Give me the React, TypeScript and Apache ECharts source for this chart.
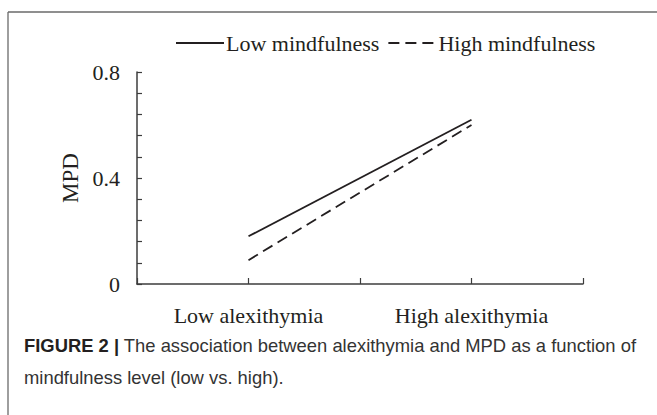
import React, { useEffect, useRef } from "react";
import * as echarts from "echarts";

const xCategories = ["", "Low alexithymia", "", "High alexithymia", ""];
const seriesNames = ["Low mindfulness", "High mindfulness"];
const lowMindfulness = [null, 0.18, null, 0.62, null];
const highMindfulness = [null, 0.09, null, 0.6, null];
const yMin = 0;
const yMax = 0.8;
const yInterval = 0.4;
const yMinorSplit = 5;
const yAxisName = "MPD";
const captionBold = "FIGURE 2 |";
const captionLine1 = " The association between alexithymia and MPD as a function of";
const captionLine2 = "mindfulness level (low vs. high).";

const SERIF = "'Liberation Serif', 'Times New Roman', serif";
const SANS = "'Liberation Sans', Arial, sans-serif";
const INK = "#231f20";
const AXIS = "#3c3c3c";

export default function App() {
  const ref = useRef<HTMLDivElement>(null);
  useEffect(() => {
    if (!ref.current) return;
    const chart = echarts.init(ref.current, undefined, { renderer: "svg" });
    chart.setOption({
      animation: false,
      backgroundColor: "#ffffff",
      legend: {
        left: 175,
        top: 32,
        padding: 0,
        itemWidth: 48,
        itemHeight: 14,
        itemGap: 8,
        itemStyle: { opacity: 0, color: "rgba(0,0,0,0)", borderWidth: 0 },
        textStyle: { fontFamily: SERIF, fontSize: 22, color: INK, padding: [0, 0, 0, -3] },
        data: seriesNames,
      },
      grid: { left: 137, right: 74, top: 72, bottom: 131, containLabel: false },
      xAxis: {
        type: "category",
        data: xCategories,
        boundaryGap: false,
        axisLine: { lineStyle: { color: AXIS, width: 1.5 } },
        axisTick: { show: true, inside: true, length: 6, interval: 0, lineStyle: { color: AXIS, width: 1.2 } },
        axisLabel: { interval: 0, margin: 20, fontFamily: SERIF, fontSize: 22, color: INK },
        splitLine: { show: false },
      },
      yAxis: {
        type: "value",
        min: yMin,
        max: yMax,
        interval: yInterval,
        name: yAxisName,
        nameLocation: "middle",
        nameRotate: 90,
        nameGap: 50,
        nameTextStyle: { fontFamily: SERIF, fontSize: 23, color: INK },
        axisLine: { show: true, lineStyle: { color: AXIS, width: 1.5 } },
        axisTick: { show: true, inside: true, length: 5, lineStyle: { color: AXIS, width: 1.2 } },
        minorTick: { show: true, splitNumber: yMinorSplit, length: 5, lineStyle: { color: AXIS, width: 1.2 } },
        axisLabel: {
          margin: 17,
          fontFamily: SERIF,
          fontSize: 22,
          color: INK,
          formatter: (v: number) => (v === 0 ? "0" : v.toFixed(1)),
        },
        splitLine: { show: false },
      },
      series: [
        {
          name: seriesNames[0],
          type: "line",
          data: lowMindfulness,
          connectNulls: true,
          symbol: "none",
          lineStyle: { color: INK, width: 1.8, type: "solid" },
          itemStyle: { color: INK },
        },
        {
          name: seriesNames[1],
          type: "line",
          data: highMindfulness,
          connectNulls: true,
          symbol: "none",
          lineStyle: { color: INK, width: 1.8, type: [11, 6] },
          itemStyle: { color: INK },
        },
      ],
      graphic: [
        {
          type: "line",
          shape: { x1: 8, y1: 12, x2: 657, y2: 12 },
          style: { stroke: "#6a6a6a", lineWidth: 1.3 },
        },
        {
          type: "line",
          shape: { x1: 8, y1: 12, x2: 8, y2: 415 },
          style: { stroke: "#6a6a6a", lineWidth: 1.3 },
        },
        {
          type: "text",
          left: 24,
          top: 336,
          style: {
            text: "{b|" + captionBold + "}{r|" + captionLine1 + "}\n{r|" + captionLine2 + "}",
            rich: {
              b: { fontFamily: SANS, fontSize: 18.4, fontWeight: "bold", fill: "#231f20", lineHeight: 32 },
              r: { fontFamily: SANS, fontSize: 18.4, fill: "#333333", lineHeight: 32 },
            },
          },
        },
      ],
    });
    return () => chart.dispose();
  }, []);
  return (
    <div
      ref={ref}
      style={{ position: "fixed", left: 0, top: 0, width: 657, height: 415 }}
    />
  );
}
